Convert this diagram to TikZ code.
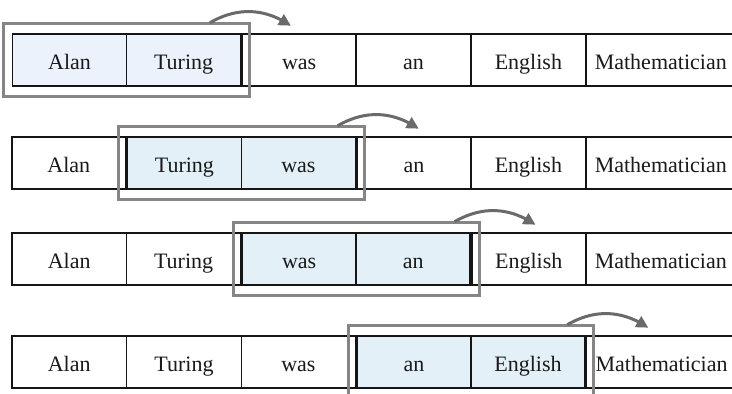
\documentclass[tikz,border=0pt]{standalone}
\usepackage{fontspec}
\setmainfont{Liberation Serif}
\usetikzlibrary{arrows.meta,fit,bending}
\definecolor{cellline}{HTML}{151515}
\definecolor{hlA}{HTML}{EBF2FC}
\definecolor{hlB}{HTML}{E3F0F8}
\definecolor{wincol}{HTML}{858585}
\definecolor{arrcol}{HTML}{6A6A6A}
\definecolor{txtcol}{HTML}{1A1A1A}
\tikzset{
  cell/.style={draw=cellline, line width=1.6pt, minimum height=52pt,
    inner xsep=9pt, inner ysep=0pt, text=txtcol,
    font=\fontsize{22}{26}\selectfont, text height=22pt, text depth=3.4pt,
    anchor=west},
  window/.style={draw=wincol, line width=3pt, inner xsep=8pt, inner ysep=10pt},
  movearrow/.style={draw=arrcol, line width=3pt,
    -{Triangle[length=12pt,width=12pt,flex]}},
}
\begin{document}
\begin{tikzpicture}[x=1pt,y=1pt]
\useasboundingbox (0,0) rectangle (732,-394);
\clip (0,0) rectangle (732,-394);
\foreach \r/\t/\h/\fc/\ao in {1/34/1/hlA/-41, 2/137/2/hlB/-28, 3/233/3/hlB/-26, 4/336/4/hlB/-28}{
  \pgfmathsetmacro\cy{-(\t+26)}
  \foreach \k/\w in {1/Alan, 2/Turing, 3/was, 4/an, 5/English, 6/Mathematician}{
    \pgfmathsetmacro\L{11+114.8*(\k-1)+0.8*or(\k==\h,\k==\h+2)}
    \pgfmathsetmacro\W{114.8-0.8*or(\k==\h,\k==\h+2)-0.8*or(\k==\h-1,\k==\h+1)}
    \pgfmathtruncatemacro\isH{and(\k>=\h,\k<=\h+1)}
    \ifnum\isH=1\def\thefill{\fc}\else\def\thefill{white}\fi
    \node[cell, fill=\thefill, minimum width=\W pt] (c\r-\k) at (\L,\cy) {\w};
  }
  \pgfmathtruncatemacro\hh{\h+1}
  \node[window, fit=(c\r-\h) (c\r-\hh)] (w\r) {};
  \pgfmathsetmacro\ae{\ao+81}
  \coordinate (s\r) at ([xshift=\ao pt,yshift=-1pt]w\r.north east);
  \coordinate (e\r) at ([xshift=\ae pt,yshift=-4pt]w\r.north east);
  \draw[movearrow] (s\r) to[bend left=32] (e\r);
}
\end{tikzpicture}
\end{document}
